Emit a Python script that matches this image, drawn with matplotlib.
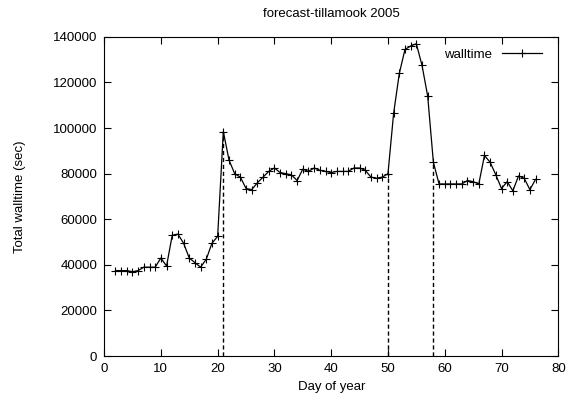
from matplotlib import pyplot as plt

plt.rcParams['font.family'] = ['Liberation Sans', 'DejaVu Sans']
plt.rcParams['font.size'] = 9.5

# day of year
days = list(range(2, 77))
# total walltime (sec)
walltime = [37500, 37500, 37500, 37000, 37500, 39000, 39000, 39000, 43000, 39500,
            53000, 53500, 49500, 43000, 41000, 39000, 42500, 49500, 52500, 98500,
            86000, 80000, 78500, 73500, 73000, 76000, 78500, 81000, 82500, 80500,
            80000, 79500, 77000, 82000, 81000, 82500, 81500, 81000, 80500, 81000,
            81000, 81000, 82500, 82500, 81500, 78500, 78000, 78500, 80000, 106500,
            124000, 134500, 136000, 137000, 127500, 114000, 85000, 75500, 75500, 75500,
            75500, 75500, 77000, 76500, 75500, 88000, 85000, 79500, 73500, 76500,
            72500, 79000, 78000, 73000, 77500]
# dashed markers
marks = [21, 50, 58]

fig = plt.figure(figsize=(5.72, 4.01), dpi=100)
ax = fig.add_axes([0.182, 0.112, 0.794, 0.796])

ax.plot(days, walltime, color='black', linewidth=0.9, marker='+',
        markersize=5.5, markeredgewidth=0.8, label='walltime')
for d in marks:
    ax.vlines(d, 0, walltime[days.index(d)], colors='black',
              linestyles=(0, (3, 2)), linewidth=1)

ax.set_xlim(0, 80)
ax.set_ylim(0, 140000)
ax.set_xticks(range(0, 81, 10))
ax.set_yticks(range(0, 140001, 20000))
ax.tick_params(direction='in', top=True, right=True, length=5, pad=5)
ax.set_xlabel('Day of year', labelpad=4)
ax.set_ylabel('Total walltime (sec)', labelpad=19)
ax.set_title('forecast-tillamook 2005', fontsize=9.5, pad=14)
ax.legend(loc='upper right', frameon=False, handlelength=3.0,
          markerfirst=False, borderaxespad=0.5, bbox_to_anchor=(0.99, 1.0))

plt.savefig('out.png', dpi=100)
